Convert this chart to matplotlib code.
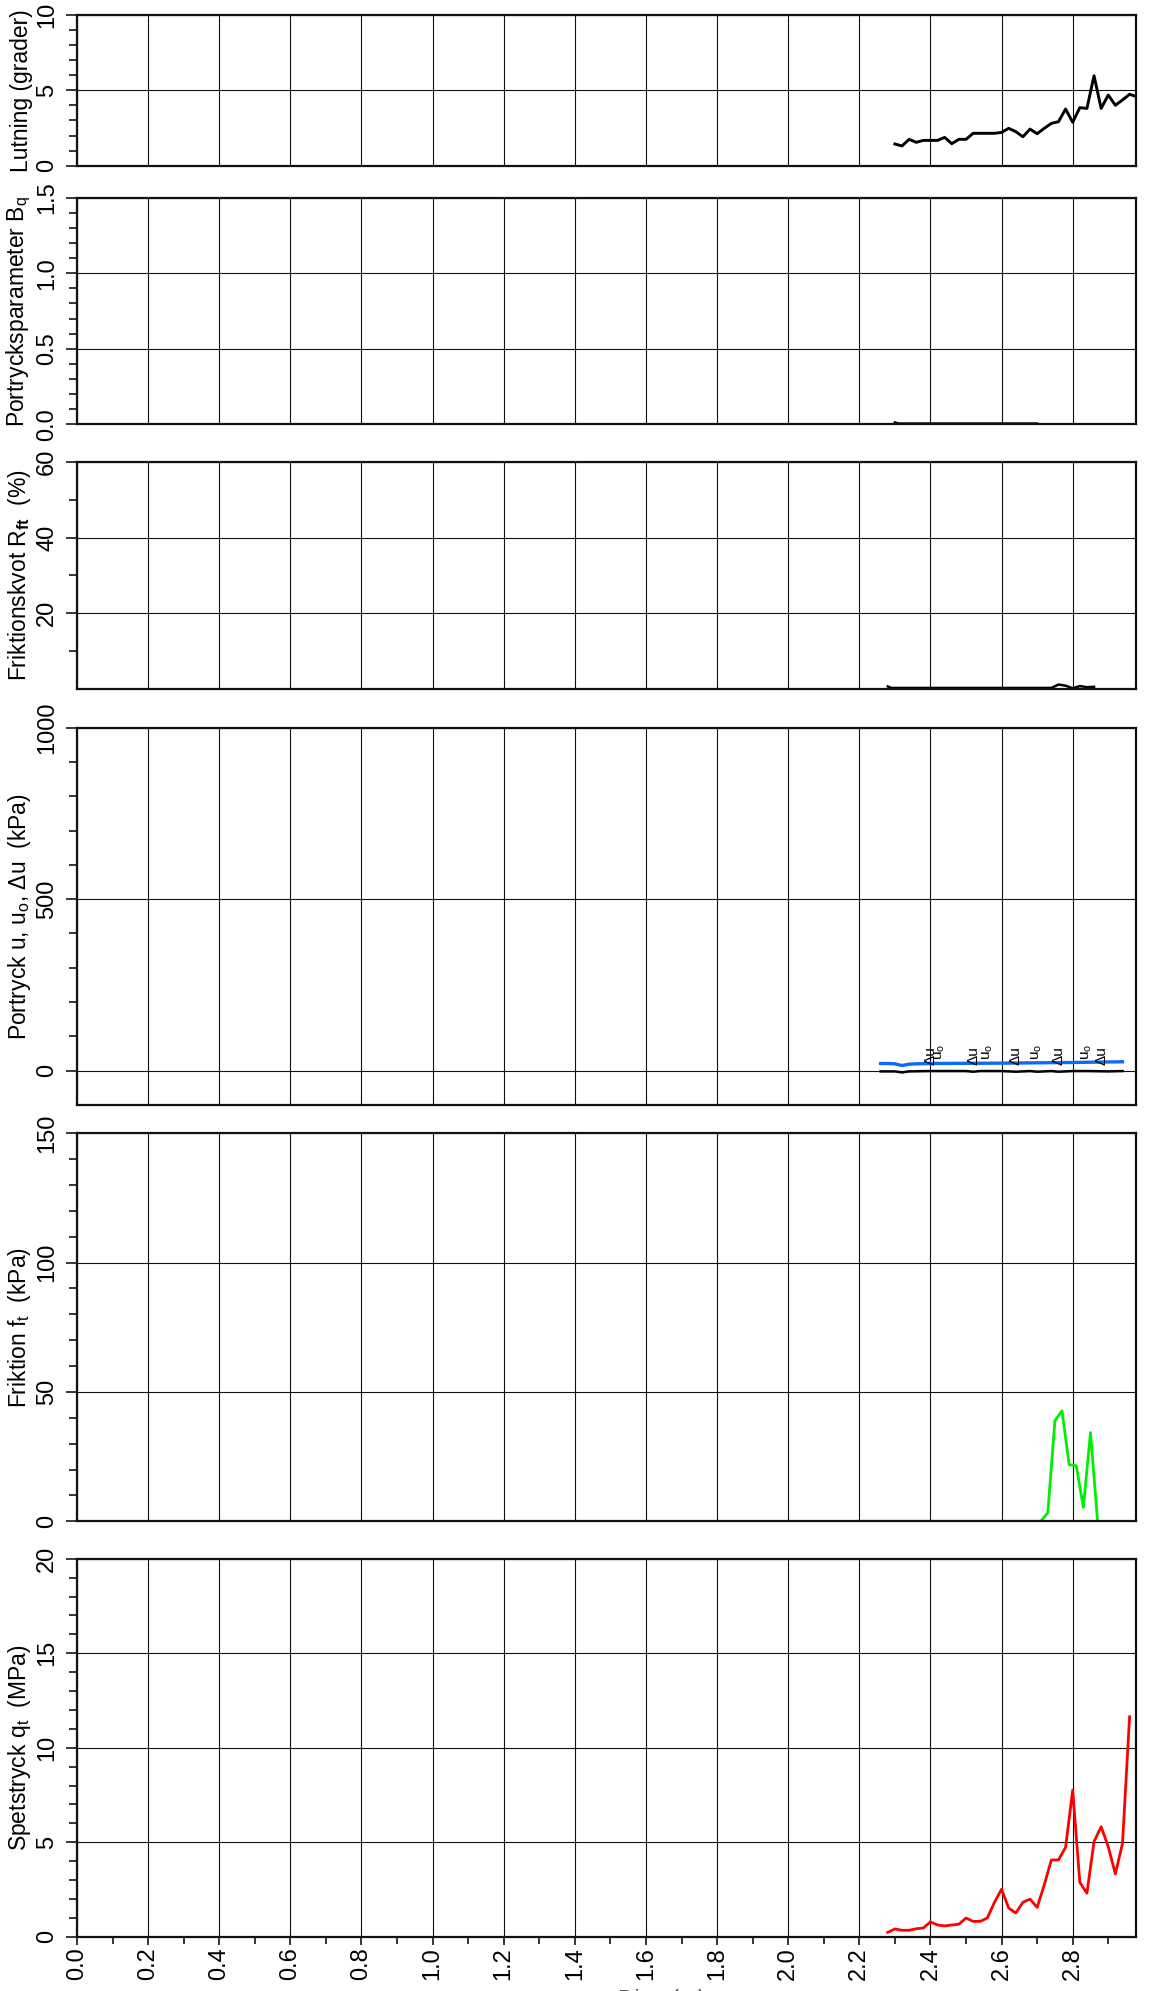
import matplotlib
matplotlib.use("Agg")
import matplotlib.pyplot as plt
from matplotlib.ticker import MultipleLocator, FixedLocator, FormatStrFormatter

plt.rcParams['font.family'] = ['Liberation Sans', 'DejaVu Sans']
plt.rcParams['mathtext.fontset'] = 'custom'
plt.rcParams['mathtext.rm'] = 'Liberation Sans'
plt.rcParams['mathtext.it'] = 'Liberation Sans:italic'
plt.rcParams['mathtext.bf'] = 'Liberation Sans:bold'

# ---------------- data ----------------
lutning_depth = [2.30, 2.32, 2.34, 2.36, 2.38, 2.40, 2.42, 2.44, 2.46, 2.48, 2.50,
                 2.52, 2.54, 2.56, 2.58, 2.60, 2.62, 2.64, 2.66, 2.68, 2.70, 2.72,
                 2.74, 2.76, 2.78, 2.80, 2.82, 2.84, 2.86, 2.88, 2.90, 2.92, 2.94,
                 2.96, 2.98]
lutning = [1.44, 1.31, 1.75, 1.55, 1.68, 1.68, 1.68, 1.88, 1.46, 1.75, 1.75,
           2.15, 2.15, 2.15, 2.15, 2.21, 2.48, 2.26, 1.92, 2.43, 2.12, 2.48,
           2.81, 2.92, 3.76, 2.88, 3.85, 3.80, 5.97, 3.80, 4.69, 4.01, 4.36,
           4.74, 4.58]

bq_depth = [2.30, 2.31, 2.40, 2.50, 2.60, 2.70]
bq = [0.012, 0.005, 0.005, 0.005, 0.005, 0.005]

rf_depth = [2.28, 2.29, 2.40, 2.50, 2.60, 2.70, 2.72, 2.74, 2.76, 2.78, 2.80,
            2.82, 2.84, 2.86]
rf = [0.6, 0.2, 0.2, 0.2, 0.2, 0.2, 0.2, 0.2, 1.1, 0.8, 0.1, 0.7, 0.4, 0.5]

u_depth = [2.26, 2.28, 2.30, 2.32, 2.34, 2.36, 2.40, 2.50, 2.60, 2.70, 2.80,
           2.90, 2.94]
u = [21, 21, 20, 15, 19, 20, 21, 21.5, 22, 23, 24, 25.5, 26]

du_depth = [2.26, 2.30, 2.32, 2.34, 2.40, 2.50, 2.52, 2.54, 2.60, 2.64, 2.68,
            2.70, 2.74, 2.76, 2.80, 2.84, 2.90, 2.94]
du = [-2, -2, -5, -2, -1, -1, -3, -1, -1, -3, -1, -3, -1, -3, -1, -1, -2, -1]

du_label_depth = [2.40, 2.52, 2.64, 2.76, 2.88]
u0_label_depth = [2.425, 2.56, 2.70, 2.84]

ft_depth = [2.19, 2.71, 2.73, 2.75, 2.77, 2.79, 2.81, 2.83, 2.85, 2.87]
ft = [0, 0, 3.3, 38.9, 42.7, 21.9, 21.5, 5.4, 34.3, 0]

qt_depth = [2.28, 2.30, 2.32, 2.34, 2.36, 2.38, 2.40, 2.42, 2.44, 2.46, 2.48,
            2.50, 2.52, 2.54, 2.56, 2.58, 2.60, 2.62, 2.64, 2.66, 2.68, 2.70,
            2.72, 2.74, 2.76, 2.78, 2.80, 2.82, 2.84, 2.86, 2.88, 2.90, 2.92,
            2.94, 2.96]
qt = [0.23, 0.41, 0.34, 0.34, 0.42, 0.46, 0.78, 0.62, 0.57, 0.62, 0.66,
      0.99, 0.81, 0.81, 0.99, 1.82, 2.51, 1.52, 1.25, 1.82, 1.99, 1.55,
      2.74, 4.06, 4.06, 4.73, 7.76, 2.88, 2.30, 5.03, 5.82, 4.76, 3.32,
      4.94, 11.64]

x_ticks = [0.0, 0.2, 0.4, 0.6, 0.8, 1.0, 1.2, 1.4, 1.6, 1.8, 2.0, 2.2, 2.4, 2.6, 2.8]

ylabels = ['Lutning (grader)',
           r'Portrycksparameter B$_\mathrm{q}$',
           r'Friktionskvot R$_\mathbf{ft}$  (%)',
           r'Portryck u, u$_\mathrm{o}$, Δu  (kPa)',
           r'Friktion f$_\mathrm{t}$  (kPa)',
           r'Spetstryck q$_\mathrm{t}$  (MPa)']

# ---------------- layout ----------------
W, H = 1151, 1991
fig = plt.figure(figsize=(W / 100, H / 100), dpi=100)
left_px, right_px = 77, 1136
panels_px = [(15, 165.7), (197.7, 424.3), (462, 688.7), (727.7, 1105),
             (1133.3, 1521.3), (1558.7, 1936.7)]
FS_TICK = 17
FS_LAB = 16.5
XMAX = 2.978

axes = []
for (top, bot) in panels_px:
    ax = fig.add_axes([left_px / W, 1 - bot / H, (right_px - left_px) / W, (bot - top) / H])
    axes.append(ax)

ylims = [(0, 10), (0, 1.5), (0, 60), (-100, 1000), (0, 150), (0, 20)]
ymajor = [[0, 5, 10], [0, 0.5, 1.0, 1.5], [20, 40, 60], [0, 500, 1000],
          [0, 50, 100, 150], [0, 5, 10, 15, 20]]
yminor = [[1, 2, 3, 4, 6, 7, 8, 9],
          [0.1, 0.2, 0.3, 0.4, 0.6, 0.7, 0.8, 0.9, 1.1, 1.2, 1.3, 1.4],
          [10, 30, 50],
          [100, 200, 300, 400, 600, 700, 800, 900],
          [10, 20, 30, 40, 60, 70, 80, 90, 110, 120, 130, 140],
          [1, 2, 3, 4, 6, 7, 8, 9, 11, 12, 13, 14, 16, 17, 18, 19]]
yfmt = ['%d', '%.1f', '%d', '%d', '%d', '%d']

for i, ax in enumerate(axes):
    ax.set_xlim(0, XMAX)
    ax.set_ylim(*ylims[i])
    ax.xaxis.set_major_locator(FixedLocator(x_ticks))
    ax.xaxis.set_minor_locator(MultipleLocator(0.1))
    ax.xaxis.set_major_formatter(FormatStrFormatter('%.1f'))
    ax.yaxis.set_major_locator(FixedLocator(ymajor[i]))
    ax.yaxis.set_minor_locator(FixedLocator(yminor[i]))
    ax.yaxis.set_major_formatter(FormatStrFormatter(yfmt[i]))
    ax.grid(True, which='major', color='#111111', lw=0.8)
    ax.set_axisbelow(True)
    for sp in ax.spines.values():
        sp.set_linewidth(1.6)
        sp.set_color('#111111')
        sp.set_zorder(5)
    ax.tick_params(axis='y', which='major', direction='out', length=8, width=1.1,
                   pad=5.5, labelsize=FS_TICK)
    ax.tick_params(axis='y', which='minor', direction='out', length=5.5, width=1.1)
    for lab in ax.get_yticklabels():
        lab.set_rotation(90)
        lab.set_va('center')
        lab.set_ha('right')
    if i < 5:
        ax.tick_params(axis='x', which='both', bottom=False, labelbottom=False)
    else:
        ax.tick_params(axis='x', which='major', direction='out', length=6, width=1.1,
                       pad=1.5, labelsize=FS_TICK, labelrotation=90)
        ax.tick_params(axis='x', which='minor', direction='out', length=5, width=1.1)
        for lab in ax.get_xticklabels():
            lab.set_va('top')
            lab.set_ha('center')
    ax.set_ylabel(ylabels[i], fontsize=FS_LAB)
    ax.yaxis.set_label_coords((33 - left_px) / (right_px - left_px), 0.5)

# ---------------- data lines ----------------
axes[0].plot(lutning_depth, lutning, color='black', lw=2.1)
axes[1].plot(bq_depth, bq, color='black', lw=1.8)
axes[2].plot(rf_depth, rf, color='black', lw=1.8)
axes[3].plot(du_depth, du, color='black', lw=1.8)
axes[3].plot(u_depth, u, color='#0a6cf0', lw=2.4)
for d in du_label_depth:
    axes[3].text(d, 17, 'Δu', rotation=90, ha='center', va='bottom', fontsize=11)
for d in u0_label_depth:
    axes[3].text(d, 31, r'u$_\mathrm{o}$', rotation=90, ha='center', va='bottom', fontsize=11)
axes[4].plot(ft_depth, ft, color='#00ee00', lw=2.0)
axes[5].plot(qt_depth, qt, color='#ff0000', lw=2.0)

fig.text(662 / W, 1 - 1989 / H, 'Djup (m)', ha='center', va='top', fontsize=FS_LAB,
         color='#555555')

fig.savefig('out.png', dpi=100)
